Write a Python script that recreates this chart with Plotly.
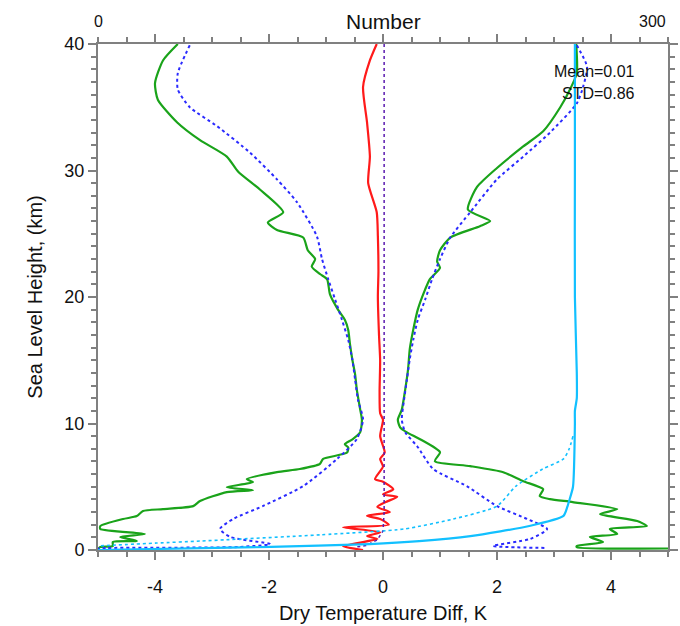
import plotly.graph_objects as go

# ---------------- data ----------------
# Green solid: mean - std (left) and mean + std (right), dataset A
green_left_x = [-3.60, -3.86, -4.00, -3.95, -3.61, -3.21, -2.74, -2.54, -2.16, -1.75, -2.02, -1.86, -1.40,
                -1.32, -1.19, -1.25, -1.10, -0.98, -0.93, -0.79, -0.67, -0.61, -0.58, -0.54, -0.49, -0.46,
                -0.40, -0.37, -0.40, -0.53, -0.67, -0.61, -0.63, -1.05, -1.11, -1.46, -1.86, -2.39, -2.28,
                -2.74, -2.28, -2.74, -3.21, -3.33, -3.86, -4.21, -4.32, -4.56, -4.96, -4.96, -4.18, -4.61,
                -4.32, -4.74, -4.74, -4.96, -5.00]
green_left_y = [40.0, 38.7, 36.9, 35.6, 33.8, 32.4, 31.1, 29.9, 28.5, 26.7, 25.9, 25.3, 24.7,
                23.7, 23.0, 22.4, 21.8, 21.4, 20.2, 19.0, 18.2, 17.4, 16.3, 15.1, 13.9, 12.7,
                11.1, 10.3, 9.3, 8.76, 8.36, 8.1, 7.7, 7.2, 6.8, 6.4, 6.15, 5.6, 5.36,
                4.97, 4.73, 4.58, 3.87, 3.47, 3.23, 3.08, 2.68, 2.45, 1.89, 1.66, 1.26, 1.03,
                0.71, 0.63, 0.32, 0.24, 0.08]
green_right_x = [3.39, 3.40, 3.28, 3.11, 2.81, 2.46, 2.00, 1.65, 1.49, 1.88, 1.70, 1.18, 1.00, 0.95, 1.00,
                 0.82, 0.74, 0.61, 0.53, 0.47, 0.44, 0.39, 0.33, 0.26, 0.30, 0.42, 0.65, 1.00, 0.91, 1.53,
                 2.11, 2.46, 2.81, 2.75, 2.93, 3.33, 4.11, 3.81, 4.46, 4.63, 3.98, 4.11, 3.63, 3.86, 3.40,
                 3.40, 5.00]
green_right_y = [40.0, 37.7, 36.4, 35.0, 33.1, 31.9, 30.2, 28.7, 26.9, 26.0, 25.6, 24.7, 23.7, 22.8, 22.3,
                 21.4, 20.6, 19.0, 17.4, 15.9, 14.3, 12.7, 11.1, 10.3, 9.7, 9.3, 8.76, 7.73, 7.02, 6.63,
                 6.15, 5.44, 4.81, 4.26, 4.02, 3.79, 3.23, 2.84, 2.29, 1.89, 1.66, 1.26, 1.03, 0.63, 0.32,
                 0.22, 0.12]

# Blue dotted: mean - std (left) and mean + std (right), dataset B
blue_left_x = [-3.39, -3.60, -3.60, -3.39, -2.91, -2.33, -1.86, -1.51, -1.16, -1.07, -0.96, -0.84, -0.72,
               -0.61, -0.54, -0.49, -0.44, -0.35, -0.46, -0.81, -1.40, -2.11, -2.63, -2.86, -2.68, -1.98,
               -2.51, -4.84, -5.00]
blue_left_y = [39.9, 37.7, 36.4, 35.0, 33.5, 31.4, 29.3, 27.5, 24.8, 23.0, 21.4, 19.8, 18.2,
               16.6, 15.1, 13.5, 11.9, 10.3, 8.76, 7.18, 5.05, 3.47, 2.45, 1.66, 1.03, 0.47,
               0.24, 0.16, 0.12]
blue_right_x = [3.40, 3.58, 3.51, 3.40, 2.93, 2.46, 2.00, 1.53, 1.18, 1.00, 0.86, 0.74, 0.61, 0.53,
                0.47, 0.42, 0.37, 0.33, 0.39, 0.60, 0.88, 1.47, 2.00, 2.53, 2.88, 2.58, 1.93, 2.88]
blue_right_y = [39.9, 38.2, 36.6, 35.3, 33.0, 31.1, 29.3, 26.7, 24.7, 23.0, 21.4, 19.8, 18.2, 16.6,
                15.1, 13.5, 11.9, 10.3, 9.3, 8.2, 6.4, 5.05, 3.47, 2.45, 1.66, 0.87, 0.32, 0.16]

# Red solid: mean difference, dataset A
red_x = [-0.11, -0.23, -0.35, -0.28, -0.23, -0.26, -0.11, -0.09, -0.08, -0.09, -0.07, -0.05, -0.06, -0.05,
         0.00, -0.05, 0.03, -0.05, 0.00, -0.14, 0.00, 0.18, 0.00, 0.25, 0.05, -0.10, 0.12, -0.28, -0.05,
         0.10, -0.70, -0.05, -0.28, -0.10, -0.70, -0.35]
red_y = [40.0, 38.7, 36.6, 33.8, 31.1, 29.0, 26.7, 24.8, 22.0, 20.0, 17.0, 15.0, 12.5, 10.8,
         10.3, 9.0, 7.7, 7.2, 6.6, 5.6, 5.4, 4.8, 4.4, 4.2, 3.8, 3.4, 3.0, 2.7, 2.45,
         2.0, 1.8, 1.4, 1.1, 0.87, 0.3, 0.0]

# Purple dotted: mean difference, dataset B
purple_x = [0.02, 0.02, 0.02, 0.02, 0.02, 0.00, -0.10, -0.30, -0.45]
purple_y = [40.0, 30.0, 20.0, 10.0, 3.0, 1.5, 0.8, 0.35, 0.25]

# Cyan: number of samples (top axis)
cyan_n = [251, 251, 251, 252, 252, 251, 251, 250, 248, 247, 245, 227, 196, 169, 143, 91, 0]
cyan_y = [40.0, 30.0, 20.0, 14.0, 12.0, 11.0, 10.0, 5.0, 3.9, 3.4, 2.7, 1.9, 1.1, 0.7, 0.47, 0.24, 0.0]
cyan_dot_n = [250, 248, 245, 234, 220, 210, 187, 161, 117, 54, 31, 0]
cyan_dot_y = [9.0, 8.0, 7.2, 6.4, 5.05, 3.47, 2.45, 1.66, 1.2, 0.71, 0.55, 0.32]

x_range = [-5, 5]
y_range = [0, 40]
n_range = [0, 300]
x_tickvals = [-4, -2, 0, 2, 4]
x_ticktext = ["-4", "-2", "0", "2", "4"]
y_tickvals = [0, 10, 20, 30, 40]
n_ticklabels = ["0", "300"]

mean_text = "Mean=0.01"
std_text = "STD=0.86"

# ---------------- figure ----------------
GREEN = "#1aa31a"
BLUE = "#2a2aff"
RED = "#ff1a1a"
PURPLE = "#5a1ab0"
CYAN = "#12c0ff"
AXC = "#808080"
FONT = "Liberation Sans, Arial, sans-serif"

fig = go.Figure()
spl = dict(shape="spline", smoothing=0.6)

fig.add_trace(go.Scatter(x=green_left_x, y=green_left_y, mode="lines",
                         line=dict(color=GREEN, width=2.2, **spl), name="A -std"))
fig.add_trace(go.Scatter(x=green_right_x, y=green_right_y, mode="lines",
                         line=dict(color=GREEN, width=2.2, **spl), name="A +std"))
fig.add_trace(go.Scatter(x=blue_left_x, y=blue_left_y, mode="lines",
                         line=dict(color=BLUE, width=2, dash="dot", **spl), name="B -std"))
fig.add_trace(go.Scatter(x=blue_right_x, y=blue_right_y, mode="lines",
                         line=dict(color=BLUE, width=2, dash="dot", **spl), name="B +std"))
fig.add_trace(go.Scatter(x=red_x, y=red_y, mode="lines",
                         line=dict(color=RED, width=2.2, **spl), name="A mean"))
fig.add_trace(go.Scatter(x=purple_x, y=purple_y, mode="lines",
                         line=dict(color=PURPLE, width=1.5, dash="dot"), name="B mean"))
fig.add_trace(go.Scatter(x=cyan_n, y=cyan_y, mode="lines", xaxis="x2",
                         line=dict(color=CYAN, width=2.2, **spl), name="A number"))
fig.add_trace(go.Scatter(x=cyan_dot_n, y=cyan_dot_y, mode="lines", xaxis="x2",
                         line=dict(color=CYAN, width=1.6, dash="dot", **spl), name="B number"))

axis_common = dict(showgrid=False, zeroline=False, showline=True, linecolor=AXC, linewidth=2,
                   ticks="outside", tickcolor=AXC, tickwidth=1.5, ticklen=8, mirror="ticks",
                   automargin=False,
                   tickfont=dict(size=18, color="#111", family=FONT))

top_label_y = 1.0435  # paper y of the top-axis text row

fig.update_layout(
    width=680, height=626,
    margin=dict(l=98, r=12, t=44, b=76),
    paper_bgcolor="white", plot_bgcolor="white",
    showlegend=False,
    font=dict(family=FONT, color="#111"),
    xaxis=dict(range=x_range, tickvals=x_tickvals, ticktext=x_ticktext,
               minor=dict(dtick=0.5, ticks="outside", ticklen=5, tickcolor=AXC, tickwidth=1.5),
               title=dict(text="Dry Temperature Diff, K", font=dict(size=20, family=FONT), standoff=10),
               ticklabelstandoff=11,
               **axis_common),
    yaxis=dict(range=y_range, tickvals=y_tickvals,
               minor=dict(dtick=1, ticks="outside", ticklen=5, tickcolor=AXC, tickwidth=1.5),
               title=dict(text="Sea Level Height, (km)", font=dict(size=20, family=FONT), standoff=16),
               **axis_common),
    xaxis2=dict(range=n_range, overlaying="x", side="top", showgrid=False, zeroline=False,
                showline=False, showticklabels=False, ticks="", automargin=False),
    annotations=[
        dict(text="Number", xref="paper", yref="paper", x=0.5, y=top_label_y, xanchor="center",
             yanchor="middle", showarrow=False, font=dict(size=21, family=FONT, color="#111")),
        dict(text=n_ticklabels[0], xref="x2", yref="paper", x=n_range[0], y=top_label_y,
             xanchor="center", yanchor="middle", showarrow=False,
             font=dict(size=16, family=FONT, color="#111")),
        dict(text=n_ticklabels[1], xref="x2", yref="paper", x=n_range[1], y=top_label_y,
             xanchor="right", yanchor="middle", showarrow=False,
             font=dict(size=16, family=FONT, color="#111")),
        dict(text=mean_text, xref="x", yref="y", x=4.46, y=37.8, xanchor="right", yanchor="middle",
             showarrow=False, font=dict(size=16, family=FONT, color="#111")),
        dict(text=std_text, xref="x", yref="y", x=4.46, y=36.1, xanchor="right", yanchor="middle",
             showarrow=False, font=dict(size=16, family=FONT, color="#111")),
    ],
)

fig.write_html("out.html")
